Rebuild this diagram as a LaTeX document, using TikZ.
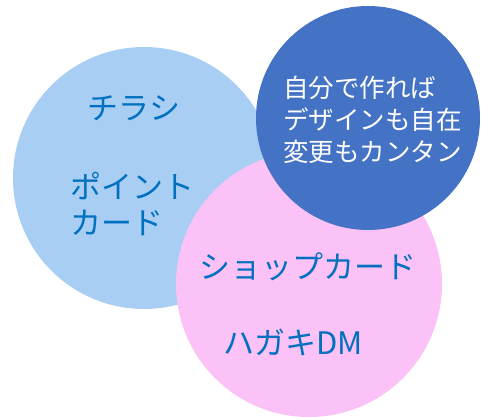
\documentclass[tikz,border=0pt]{standalone}
\usepackage{fontspec}
\newfontfamily\jp{Noto Sans CJK JP}
\definecolor{lblue}{HTML}{A9CEF4}
\definecolor{lpink}{HTML}{FAC2F6}
\definecolor{dblue}{HTML}{4472C4}
\definecolor{tblue}{HTML}{0070C0}
\begin{document}
\begin{tikzpicture}[x=1pt,y=-1pt,
  blob/.style={circle,inner sep=0pt},
  lbl/.style={inner sep=0pt,text=tblue,font=\jp\fontsize{31}{36}\selectfont,align=left},
  wlbl/.style={inner sep=0pt,text=white,font=\jp\fontsize{25.5}{32}\selectfont,align=left}]
\useasboundingbox (0,0) rectangle (483,417);
\node[blob,fill=lblue,minimum size=262pt] (c1) at (144,178) {};
\node[blob,fill=lpink,minimum size=266pt] (c2) at (309,284) {};
\node[blob,fill=dblue,minimum size=224pt] (c3) at (368,118) {};
\node[lbl,anchor=center] (t1) at (134,108) {チラシ};
\node[lbl,anchor=west] (t2) at (70,204) {ポイント\\カード};
\node[lbl,anchor=west] (t3) at (199,267) {ショップカード};
\node[lbl,anchor=west] (t4) at (223,342) {ハガキDM};
\node[wlbl,anchor=west] (t5) at (283,120) {自分で作れば\\デザインも自在\\変更もカンタン};
\end{tikzpicture}
\end{document}
